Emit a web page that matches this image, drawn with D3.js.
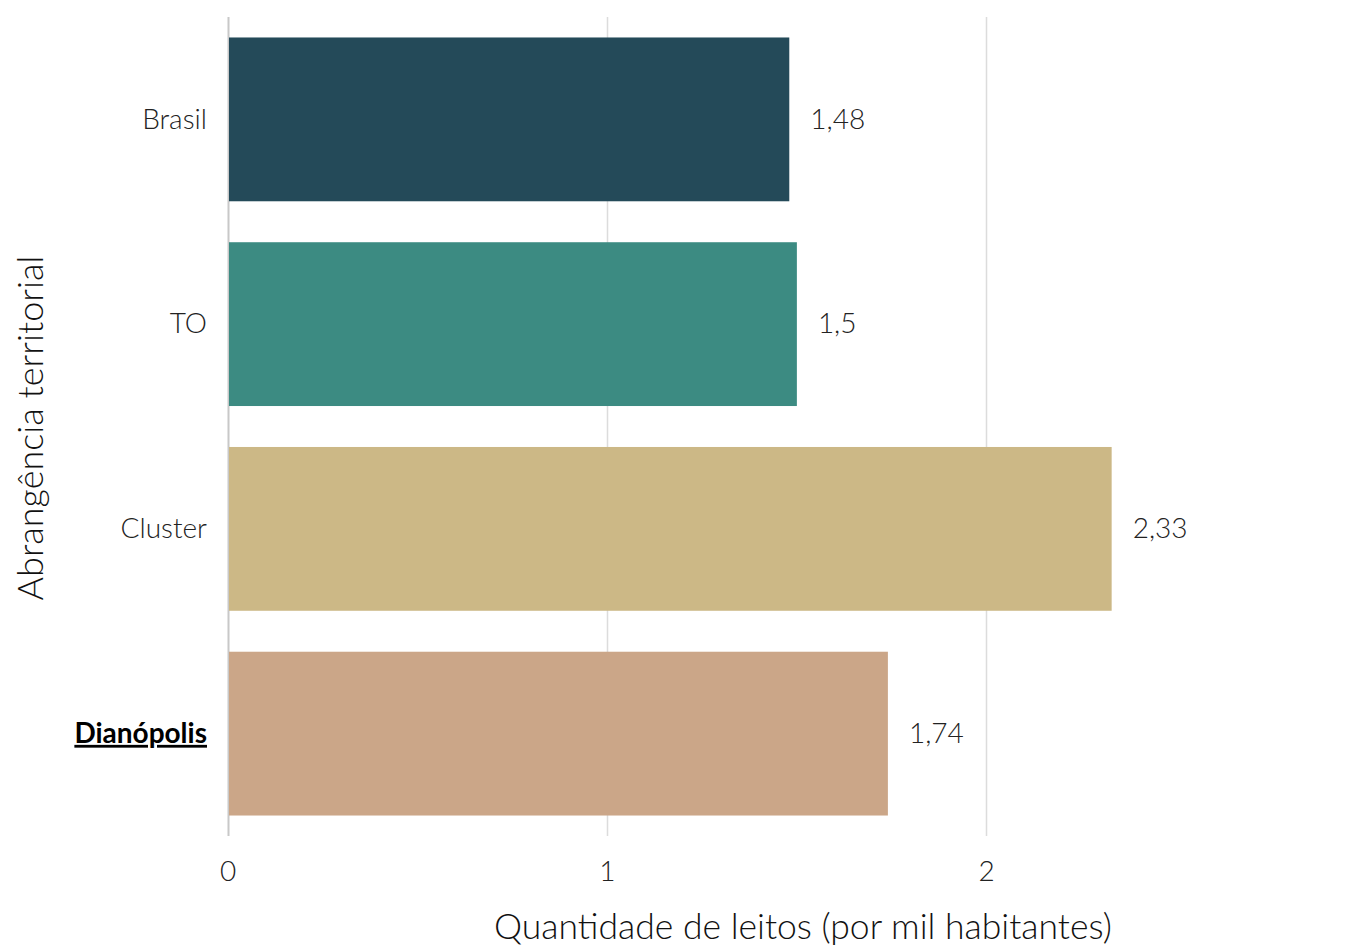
<!DOCTYPE html>
<html><head><meta charset="utf-8">
<script src="https://cdn.jsdelivr.net/npm/d3@7"></script>
<style>body{margin:0;background:#fff}svg{display:block;font-family:Lato,sans-serif}</style>
</head><body><svg id="c" width="1353" height="946"></svg>
<script>
const categories = ["Brasil", "TO", "Cluster", "Dianópolis"];
const values = [1.48, 1.5, 2.33, 1.74];
const valueLabels = ["1,48", "1,5", "2,33", "1,74"];
const colors = ["#244a59", "#3c8b82", "#ccb886", "#cba688"];
const xTicks = [0, 1, 2];
const highlight = "Dianópolis";

const svg = d3.select("#c");
const x = d3.scaleLinear().domain([0, 2]).range([228, 986.5]);
const y = d3.scaleBand().domain(categories).range([17, 836]).paddingInner(0.2).paddingOuter(0.1);

// grid
svg.append("g").selectAll("line").data(xTicks).join("line")
  .attr("x1", d => Math.floor(x(d)) + 0.5).attr("x2", d => Math.floor(x(d)) + 0.5)
  .attr("y1", 17).attr("y2", 836)
  .attr("stroke", d => d === 0 ? "#c8c8c8" : "#dcdcdc").attr("stroke-width", d => d === 0 ? 2 : 1.5);

// bars
svg.append("g").selectAll("rect").data(categories).join("rect")
  .attr("x", x(0) + 1).attr("y", d => y(d))
  .attr("width", (d, i) => x(values[i]) - x(0) - 1)
  .attr("height", y.bandwidth())
  .attr("fill", (d, i) => colors[i]);

// value labels
svg.append("g").selectAll("text").data(categories).join("text")
  .attr("x", (d, i) => x(values[i]) + 21)
  .attr("y", d => y(d) + y.bandwidth() / 2)
  .attr("dy", "0.33em")
  .attr("font-size", 28).attr("font-weight", 300).attr("fill", "#222")
  .text((d, i) => valueLabels[i]);

// category labels
svg.append("g").selectAll("text").data(categories).join("text")
  .attr("x", 207)
  .attr("y", d => y(d) + y.bandwidth() / 2)
  .attr("dy", "0.33em")
  .attr("text-anchor", "end")
  .attr("font-size", 28)
  .attr("font-weight", d => d === highlight ? 700 : 300)
  .attr("fill", d => d === highlight ? "#000" : "#222")
  .attr("text-decoration", d => d === highlight ? "underline" : null)
  .text(d => d);

// x tick labels
svg.append("g").selectAll("text").data(xTicks).join("text")
  .attr("x", d => x(d)).attr("y", 871).attr("dy", "0.35em")
  .attr("text-anchor", "middle").attr("font-size", 28).attr("font-weight", 300).attr("fill", "#222")
  .text(d => d);

// axis titles
svg.append("text").attr("x", 803).attr("y", 927).attr("dy", "0.35em")
  .attr("text-anchor", "middle").attr("font-size", 35.5).attr("font-weight", 300).attr("fill", "#111")
  .text("Quantidade de leitos (por mil habitantes)");
svg.append("text").attr("transform", "translate(30,428) rotate(-90)").attr("dy", "0.35em")
  .attr("text-anchor", "middle").attr("font-size", 36).attr("font-weight", 300).attr("fill", "#111")
  .text("Abrangência territorial");
</script></body></html>
